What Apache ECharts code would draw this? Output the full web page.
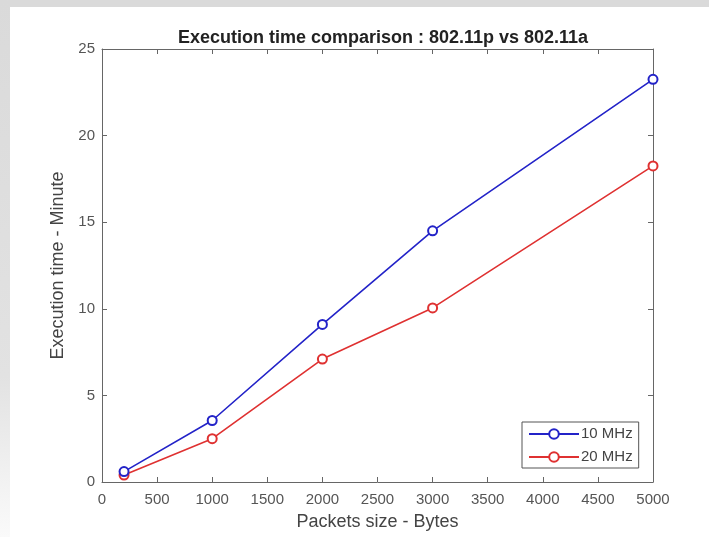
<!DOCTYPE html>
<html>
<head>
<meta charset="utf-8">
<style>
  html, body { margin: 0; padding: 0; background: #ffffff; }
  #chart { width: 709px; height: 537px; }
</style>
<script src="https://cdn.jsdelivr.net/npm/echarts@6/dist/echarts.min.js"></script>
</head>
<body>
<div id="chart"></div>
<script>
// Packet sizes (bytes) and execution times (minutes) per channel bandwidth
const packetSizes = [200, 1000, 2000, 3000, 5000];
const time10MHz = [0.6, 3.55, 9.1, 14.5, 23.25];
const time20MHz = [0.4, 2.5, 7.1, 10.05, 18.25];
const seriesNames = ['10 MHz', '20 MHz'];

const chart = echarts.init(document.getElementById('chart'), null, { renderer: 'canvas' });

const FONT = '"Liberation Sans", Arial, Helvetica, sans-serif';
const AXIS_COLOR = '#666666';
const LABEL_COLOR = '#555555';

function pairs(xs, ys) {
  return xs.map((x, i) => [x, ys[i]]);
}

const plainNumber = (v) => String(v);

const xBase = {
  type: 'value', min: 0, max: 5000, interval: 500,
  splitLine: { show: false },
  axisLine: { show: true, onZero: false, lineStyle: { color: AXIS_COLOR, width: 1 } },
  axisTick: { show: true, inside: true, length: 5, lineStyle: { color: AXIS_COLOR } }
};
const yBase = {
  type: 'value', min: 0, max: 25, interval: 5,
  splitLine: { show: false },
  axisLine: { show: true, onZero: false, lineStyle: { color: AXIS_COLOR, width: 1 } },
  axisTick: { show: true, inside: true, length: 5, lineStyle: { color: AXIS_COLOR } }
};

const option = {
  backgroundColor: '#ffffff',
  animation: false,
  title: {
    text: 'Execution time comparison : 802.11p vs 802.11a',
    left: 378, top: 24, textAlign: 'center',
    textStyle: { fontFamily: FONT, fontSize: 18, fontWeight: 'bold', color: '#222222' }
  },
  graphic: [
    { type: 'rect', shape: { x: 0, y: 0, width: 709, height: 7 }, style: { fill: '#dadada' }, silent: true },
    {
      type: 'rect', shape: { x: 0, y: 0, width: 10, height: 537 }, silent: true,
      style: {
        fill: new echarts.graphic.LinearGradient(0, 0, 0, 1, [
          { offset: 0, color: '#dadada' },
          { offset: 0.7, color: '#e2e2e2' },
          { offset: 1, color: '#fafafa' }
        ])
      }
    }
  ],
  grid: { left: 102, top: 49, width: 551, height: 433, containLabel: false },
  legend: {
    orient: 'vertical',
    left: 522, top: 422,
    data: seriesNames,
    backgroundColor: '#ffffff',
    borderColor: '#555555', borderWidth: 1, borderRadius: 0,
    padding: [4, 6, 3, 6],
    itemWidth: 50, itemHeight: 12, itemGap: 7,
    textStyle: { fontFamily: FONT, fontSize: 15, color: '#444444', lineHeight: 16, padding: [0, 0, 0, -3] }
  },
  xAxis: [
    Object.assign({}, xBase, {
      position: 'bottom',
      name: 'Packets size - Bytes', nameLocation: 'middle', nameGap: 31,
      nameTextStyle: { fontFamily: FONT, fontSize: 18, color: '#444444' },
      axisLabel: { margin: 10, fontFamily: FONT, fontSize: 15, color: LABEL_COLOR, formatter: plainNumber }
    }),
    Object.assign({}, xBase, { position: 'top', axisLabel: { show: false } })
  ],
  yAxis: [
    Object.assign({}, yBase, {
      position: 'left',
      name: 'Execution time - Minute', nameLocation: 'middle', nameGap: 31,
      nameTextStyle: { fontFamily: FONT, fontSize: 18, color: '#444444' },
      axisLabel: { margin: 7, fontFamily: FONT, fontSize: 15, color: LABEL_COLOR, formatter: plainNumber }
    }),
    Object.assign({}, yBase, { position: 'right', axisLabel: { show: false } })
  ],
  series: [
    {
      name: seriesNames[0], type: 'line',
      xAxisIndex: 0, yAxisIndex: 0,
      data: pairs(packetSizes, time10MHz),
      symbol: 'emptyCircle', symbolSize: 9,
      lineStyle: { color: '#2323c8', width: 1.6 },
      itemStyle: { color: '#2323c8', borderColor: '#2323c8', borderWidth: 1.6 },
      z: 3
    },
    {
      name: seriesNames[1], type: 'line',
      xAxisIndex: 0, yAxisIndex: 0,
      data: pairs(packetSizes, time20MHz),
      symbol: 'emptyCircle', symbolSize: 9,
      lineStyle: { color: '#df3131', width: 1.6 },
      itemStyle: { color: '#df3131', borderColor: '#df3131', borderWidth: 1.6 },
      z: 2
    }
  ]
};

chart.setOption(option);
</script>
</body>
</html>
